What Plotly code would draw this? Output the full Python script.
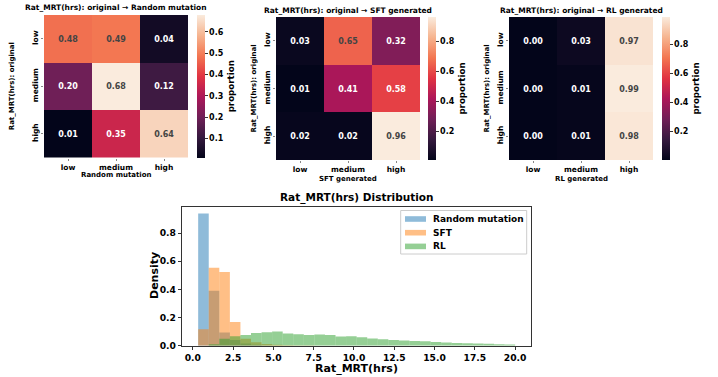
import numpy as np
import plotly.graph_objects as go

W, H = 718, 377
FONT = "DejaVu Sans"

levels = ["low", "medium", "high"]

random_matrix = [[0.48, 0.49, 0.04],
                 [0.20, 0.68, 0.12],
                 [0.01, 0.35, 0.64]]
sft_matrix = [[0.03, 0.65, 0.32],
              [0.01, 0.41, 0.58],
              [0.02, 0.02, 0.96]]
rl_matrix = [[0.002, 0.03, 0.97],
             [0.002, 0.01, 0.99],
             [0.003, 0.01, 0.98]]

# histogram (density per bin, 30 shared bins)
bin_lo, bin_hi, n_bins = 0.33, 20.0, 30
random_density = [0.938, 0.39, 0.093, 0.04, 0.015, 0.006, 0.002, 0, 0, 0,
                  0, 0, 0, 0, 0, 0, 0, 0, 0, 0,
                  0, 0, 0, 0, 0, 0, 0, 0, 0, 0]
sft_density = [0.116, 0.553, 0.523, 0.169, 0.05, 0.024, 0.012, 0.006, 0.003, 0.002,
               0.001, 0, 0, 0, 0, 0, 0, 0, 0, 0,
               0, 0, 0, 0, 0, 0, 0, 0, 0, 0]
rl_density = [0.0, 0.01, 0.05, 0.067, 0.076, 0.09, 0.095, 0.1, 0.086, 0.081,
              0.076, 0.079, 0.076, 0.065, 0.067, 0.06, 0.052, 0.045, 0.04, 0.037,
              0.034, 0.031, 0.027, 0.023, 0.02, 0.017, 0.015, 0.013, 0.011, 0.008]

series_names = ["Random mutation", "SFT", "RL"]
series_colors = ["31,119,180", "255,127,14", "44,160,44"]

rocket = [[0.0, "#03051a"], [1 / 7, "#35193e"], [2 / 7, "#701f57"], [3 / 7, "#ad1759"],
          [4 / 7, "#e13342"], [5 / 7, "#f37651"], [6 / 7, "#f6b48f"], [1.0, "#faebdd"]]


def px_x(p):
    return p / W


def px_y(p):
    return 1 - p / H


def bold(size):
    return dict(family=FONT, size=size, color="#000", weight="bold")


fig = go.Figure()

panels = [
    dict(z=random_matrix, name="Random mutation", x0=44, x1=188, y0=15, y1=157.5, cb=197, dtick=0.1,
         title="Rat_MRT(hrs): original \u2192 Random mutation", ty=7, xl=175, yl=12),
    dict(z=sft_matrix, name="SFT generated", x0=276, x1=420, y0=17, y1=160, cb=428, dtick=0.2,
         title="Rat_MRT(hrs): original \u2192 SFT generated", ty=10, xl=178.5, yl=254),
    dict(z=rl_matrix, name="RL generated", x0=509, x1=653, y0=17, y1=160, cb=662, dtick=0.2,
         title="Rat_MRT(hrs): original \u2192 RL generated", ty=10, xl=178.5, yl=487),
]

annotations = []
shapes = []
for i, p in enumerate(panels, start=1):
    suffix = "" if i == 1 else str(i)
    z = np.array(p["z"])
    fig.add_trace(go.Heatmap(
        z=p["z"], x=levels, y=levels, xaxis="x" + suffix, yaxis="y" + suffix,
        colorscale=rocket, zmin=z.min(), zmax=z.max(),
        texttemplate="%{z:.2f}", textfont=dict(family=FONT, size=8, weight="bold"),
        colorbar=dict(
            x=px_x(p["cb"]), xanchor="left", xpad=0, ypad=0, thickness=8,
            y=px_y((p["y0"] + p["y1"]) / 2), yanchor="middle",
            len=(p["y1"] - p["y0"]) / H, lenmode="fraction",
            outlinewidth=0, dtick=p["dtick"], tick0=0, ticks="outside", ticklen=3,
            tickcolor="#333", tickfont=bold(8),
            title=dict(text="proportion", side="right", font=bold(8.7)),
        ),
        hoverinfo="skip",
    ))
    fig.layout["xaxis" + suffix] = dict(
        domain=[px_x(p["x0"]), px_x(p["x1"])], anchor="y" + suffix, automargin=False,
        showgrid=False, zeroline=False, showline=False, ticks="outside", ticklen=2,
        tickcolor="#888", tickfont=bold(7.5),
    )
    fig.layout["yaxis" + suffix] = dict(
        domain=[px_y(p["y1"]), px_y(p["y0"])], anchor="x" + suffix, automargin=False,
        autorange="reversed", showgrid=False, zeroline=False, showline=False,
        ticks="outside", ticklen=2, tickcolor="#888", tickangle=-90, tickfont=bold(7.5),
    )
    annotations.append(dict(
        text=p["title"], x=px_x((p["x0"] + p["x1"]) / 2), y=px_y(p["ty"]),
        xref="paper", yref="paper", showarrow=False, xanchor="center", yanchor="middle",
        font=bold(7.5),
    ))
    annotations.append(dict(
        text=p["name"], x=px_x((p["x0"] + p["x1"]) / 2), y=px_y(p["xl"]),
        xref="paper", yref="paper", showarrow=False, xanchor="center", yanchor="middle",
        font=bold(7),
    ))
    annotations.append(dict(
        text="Rat_MRT(hrs): original", x=px_x(p["yl"]), y=px_y((p["y0"] + p["y1"]) / 2),
        xref="paper", yref="paper", showarrow=False, xanchor="center", yanchor="middle",
        textangle=-90, font=bold(7),
    ))

# histogram
edges = np.linspace(bin_lo, bin_hi, n_bins + 1)
centers = (edges[:-1] + edges[1:]) / 2
widths = np.diff(edges)
for name, vals, rgb in zip(series_names, [random_density, sft_density, rl_density], series_colors):
    fig.add_trace(go.Bar(
        x=centers, y=vals, width=widths, name=name, xaxis="x4", yaxis="y4",
        marker=dict(color=f"rgba({rgb},0.5)", line=dict(width=0)),
        hoverinfo="skip", showlegend=False,
    ))

fig.update_layout(
    xaxis4=dict(domain=[px_x(182.3), px_x(531)], anchor="y4", range=[-0.655, 20.985],
                automargin=False, dtick=2.5, tick0=0, tickformat=".1f", showgrid=False,
                zeroline=False, showline=True, linecolor="#333", linewidth=1, mirror=True,
                ticks="outside", ticklen=3, tickcolor="#333", tickfont=bold(9.2)),
    yaxis4=dict(domain=[px_y(345.7), px_y(207)], anchor="x4", range=[0, 0.985],
                automargin=False, dtick=0.2, tickformat=".1f", showgrid=False,
                zeroline=False, showline=True, linecolor="#333", linewidth=1, mirror=True,
                ticks="outside", ticklen=3.5, tickcolor="#333", tickfont=bold(9.2)),
    barmode="overlay",
    showlegend=False,
)
annotations += [
    dict(text="Rat_MRT(hrs) Distribution", x=px_x(356.5), y=px_y(198), font=bold(10.5)),
    dict(text="Rat_MRT(hrs)", x=px_x(356.5), y=px_y(368.5), font=bold(11)),
    dict(text="Density", x=px_x(154), y=px_y(276), font=bold(11), textangle=-90),
]
for a in annotations[-3:]:
    a.update(xref="paper", yref="paper", showarrow=False, xanchor="center", yanchor="middle")

# legend box drawn by hand to match the compact matplotlib legend
shapes.append(dict(type="rect", xref="paper", yref="paper",
                   x0=px_x(400.7), x1=px_x(526.7), y0=px_y(254), y1=px_y(210.5),
                   fillcolor="rgba(255,255,255,0.8)", line=dict(color="#cccccc", width=1)))
for k, (name, rgb) in enumerate(zip(series_names, series_colors)):
    cy = 219 + 13.7 * k
    shapes.append(dict(type="rect", xref="paper", yref="paper",
                       x0=px_x(405), x1=px_x(426), y0=px_y(cy + 2.8), y1=px_y(cy - 2.8),
                       fillcolor=f"rgba({rgb},0.5)", line=dict(width=0)))
    annotations.append(dict(text=name, x=px_x(431), y=px_y(cy), xref="paper", yref="paper",
                            showarrow=False, xanchor="left", yanchor="middle", font=bold(9)))

fig.update_layout(
    width=W, height=H, margin=dict(l=0, r=0, t=0, b=0),
    paper_bgcolor="white", plot_bgcolor="white",
    annotations=annotations, shapes=shapes,
)

# the page body has a default 8px margin; drop it so the figure fills the window
fig.write_html("out.html", config={"displayModeBar": False},
               post_script="document.body.style.margin = '0px';")
